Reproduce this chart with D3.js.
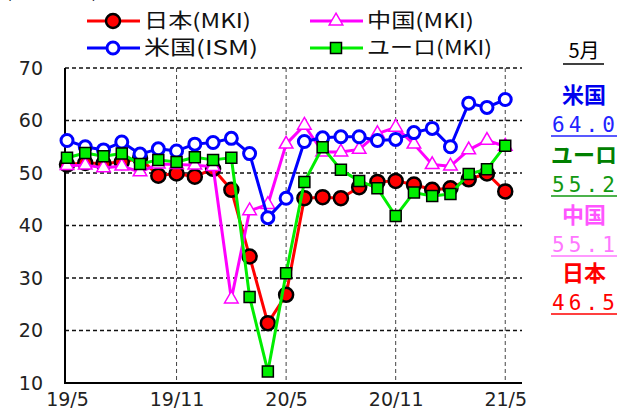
<!DOCTYPE html>
<html>
<head>
<meta charset="utf-8">
<script src="https://cdn.jsdelivr.net/npm/d3@7"></script>
<style>
  body { margin: 0; background: #fff; }
  svg { display: block; }
  text { font-family: "DejaVu Sans", sans-serif; }
  .jp { font-family: "Noto Sans CJK JP", sans-serif; }
</style>
</head>
<body>
<div id="chart"></div>
<script>
// months from 2019/5 (index 0) to 2021/5 (index 24)
var months = d3.range(25);
var japan = [51.6, 51.9, 51.8, 52.1, 52.8, 49.5, 49.9, 49.3, 50.8, 46.8, 34.1, 21.4, 26.8,
    45.2, 45.4, 45.2, 47.3, 48.3, 48.5, 47.8, 46.8, 47.1, 48.8, 49.9, 46.5];
var china = [51.4, 51.5, 51.0, 51.3, 50.2, 51.7, 51.6, 51.5, 51.2, 26.0, 42.8, 44.0, 55.5,
    59.1, 54.0, 54.0, 54.5, 57.5, 58.7, 55.5, 51.6, 51.3, 54.4, 56.2, 55.1];
var usa = [56.2, 55.0, 54.4, 55.9, 53.6, 54.6, 54.2, 55.5, 55.8, 56.6, 53.7, 41.5, 45.2,
    56.0, 56.7, 56.9, 56.9, 56.2, 56.4, 57.7, 58.5, 55.0, 63.3, 62.5, 64.0];
var euro = [52.9, 53.8, 53.2, 53.7, 51.7, 52.5, 52.1, 53.0, 52.5, 52.9, 26.4, 12.2, 30.9,
    48.3, 54.9, 50.6, 48.5, 47.1, 41.8, 46.3, 45.6, 46.0, 49.8, 50.7, 55.2];

var yTicks = [10, 20, 30, 40, 50, 60, 70];
var xTickPos = [0, 6, 12, 18, 24];
var xTickLabels = ['19/5', '19/11', '20/5', '20/11', '21/5'];

var W = 634, H = 419;
var svg = d3.select('#chart').append('svg')
    .attr('width', W).attr('height', H);

var x = d3.scaleLinear().domain([0, 25]).range([67, 523.5]);
var y = d3.scaleLinear().domain([10, 70]).range([383, 68]);
var x0 = 65, x1 = 522;

// heading, mostly above the top edge as in the source
svg.append('text').attr('class', 'jp')
    .attr('x', 5).attr('y', -3)
    .style('font-size', '20px')
    .text('(ポイント)');

// grid
svg.append('g').selectAll('line')
    .data(yTicks.slice(1))
    .enter().append('line')
    .attr('x1', x0).attr('x2', x1)
    .attr('y1', y).attr('y2', y)
    .attr('stroke', '#111').attr('stroke-width', 1.5)
    .attr('stroke-dasharray', '4,3');

svg.append('g').selectAll('line')
    .data(xTickPos.slice(1))
    .enter().append('line')
    .attr('x1', x).attr('x2', x)
    .attr('y1', y(70)).attr('y2', y(10))
    .attr('stroke', '#444').attr('stroke-width', 1)
    .attr('stroke-dasharray', '4,3');

// axes
svg.append('line').attr('x1', x0).attr('x2', x0)
    .attr('y1', y(70)).attr('y2', y(10) + 1)
    .attr('stroke', '#000').attr('stroke-width', 2);
svg.append('line').attr('x1', x0).attr('x2', x1)
    .attr('y1', y(10)).attr('y2', y(10))
    .attr('stroke', '#000').attr('stroke-width', 2);

var yAxis = d3.axisLeft(y).tickValues(yTicks).tickSize(0).tickPadding(22);
var gy = svg.append('g').attr('transform', 'translate(' + x0 + ',0)').call(yAxis);
gy.select('.domain').remove();
gy.selectAll('text').style('font-size', '19px').style('font-family', '"DejaVu Sans", sans-serif')
    .attr('fill', '#222');

var xAxis = d3.axisBottom(x).tickValues(xTickPos)
    .tickFormat(function (d, i) { return xTickLabels[i]; })
    .tickSize(0).tickPadding(10);
var gx = svg.append('g').attr('transform', 'translate(0,' + y(10) + ')').call(xAxis);
gx.select('.domain').remove();
gx.selectAll('text').style('font-size', '19px').style('font-family', '"DejaVu Sans", sans-serif')
    .attr('fill', '#222');

// series
var line = d3.line()
    .x(function (d, i) { return x(months[i]); })
    .y(function (d) { return y(d); });

function drawLine(values, color) {
    svg.append('path').datum(values)
        .attr('d', line)
        .attr('fill', 'none')
        .attr('stroke', color)
        .attr('stroke-width', 3)
        .attr('stroke-linejoin', 'round');
}

var tri = d3.symbol().type(d3.symbolTriangle).size(80);
var sq = d3.symbol().type(d3.symbolSquare).size(121);

function markCircle(g, cx, cy, fill, stroke, r, sw) {
    g.append('circle').attr('cx', cx).attr('cy', cy).attr('r', r)
        .attr('fill', fill).attr('stroke', stroke).attr('stroke-width', sw);
}
function markPath(g, cx, cy, gen, fill, stroke, sw) {
    g.append('path').attr('d', gen())
        .attr('transform', 'translate(' + cx + ',' + cy + ')')
        .attr('fill', fill).attr('stroke', stroke).attr('stroke-width', sw);
}

var series = [
    { values: japan, color: '#ff0000', mark: function (g, cx, cy) { markCircle(g, cx, cy, '#ff0000', '#000', 7, 2.5); } },
    { values: china, color: '#ff00ff', mark: function (g, cx, cy) { markPath(g, cx, cy, tri, '#fff', '#ff00ff', 1.5); } },
    { values: usa, color: '#0000ff', mark: function (g, cx, cy) { markCircle(g, cx, cy, '#fff', '#0000ff', 6, 3); } },
    { values: euro, color: '#00ee00', mark: function (g, cx, cy) { markPath(g, cx, cy, sq, '#00ee00', '#000', 1.5); } }
];

series.forEach(function (s) {
    drawLine(s.values, s.color);
    var g = svg.append('g');
    s.values.forEach(function (v, i) {
        s.mark(g, x(months[i]), y(v));
    });
});

// legend
var legend = [
    { name: '日本(MKI)', s: 0, lx: 87, ly: 21, w: 107 },
    { name: '中国(MKI)', s: 1, lx: 310, ly: 21, w: 107 },
    { name: '米国(ISM)', s: 2, lx: 87, ly: 48, w: 114 },
    { name: 'ユーロ(MKI)', s: 3, lx: 310, ly: 48, w: 125 }
];
legend.forEach(function (l) {
    var s = series[l.s];
    var g = svg.append('g');
    g.append('line').attr('x1', l.lx).attr('x2', l.lx + 53)
        .attr('y1', l.ly).attr('y2', l.ly)
        .attr('stroke', s.color).attr('stroke-width', 3);
    s.mark(g, l.lx + 26, l.ly);
    g.append('text').attr('class', 'jp')
        .attr('x', l.lx + 57).attr('y', l.ly)
        .attr('dy', '0.36em')
        .attr('textLength', l.w).attr('lengthAdjust', 'spacingAndGlyphs')
        .style('font-size', '20px').attr('fill', '#111')
        .text(l.name);
});

// latest values panel
var panelX = 584;
svg.append('text').attr('class', 'jp')
    .attr('x', panelX).attr('y', 51).attr('dy', '0.36em')
    .attr('text-anchor', 'middle').style('font-size', '20px')
    .text('5月');
svg.append('line').attr('x1', 563).attr('x2', 604).attr('y1', 64).attr('y2', 64)
    .attr('stroke', '#000').attr('stroke-width', 1.5);

var latest = [
    { name: '米国', value: '64.0', color: '#0000ee', vcolor: '#2222ff', ny: 95 },
    { name: 'ユーロ', value: '55.2', color: '#008000', vcolor: '#119911', ny: 155 },
    { name: '中国', value: '55.1', color: '#ff55ff', vcolor: '#ff77ff', ny: 215 },
    { name: '日本', value: '46.5', color: '#ff0000', vcolor: '#ff0000', ny: 273 }
];
latest.forEach(function (d) {
    svg.append('text').attr('class', 'jp')
        .attr('x', panelX).attr('y', d.ny).attr('dy', '0.35em')
        .attr('text-anchor', 'middle')
        .style('font-size', '22px').style('font-weight', 'bold')
        .attr('fill', d.color)
        .text(d.name);
    svg.append('text')
        .attr('x', 552).attr('y', d.ny + 29).attr('dy', '0.36em')
        .attr('textLength', 63).attr('lengthAdjust', 'spacing')
        .style('font-family', '"DejaVu Sans Mono", monospace')
        .style('font-size', '21px')
        .attr('fill', d.vcolor)
        .text(d.value);
    svg.append('line').attr('x1', 551).attr('x2', 617)
        .attr('y1', d.ny + 41).attr('y2', d.ny + 41)
        .attr('stroke', d.vcolor).attr('stroke-width', 1.5);
});
</script>
</body>
</html>
